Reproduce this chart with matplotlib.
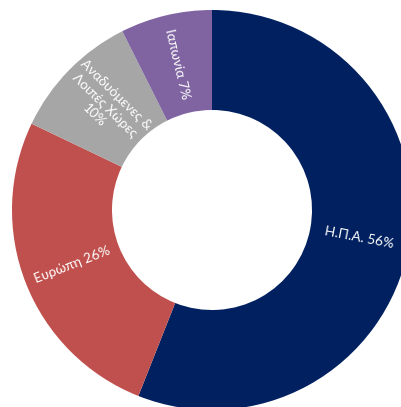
import matplotlib
matplotlib.use("Agg")
import matplotlib.pyplot as plt

regions = ["Η.Π.Α.", "Ευρώπη", "Αναδυόμενες &\nΛοιπές Χώρες\n", "Ιαπωνία"]
shares = [56.0, 26.1, 10.5, 7.4]
pct_labels = ["56%", "26%", "10%", "7%"]
colors = ["#002060", "#C0504D", "#A6A6A6", "#8064A2"]

labels = []
for r, p in zip(regions, pct_labels):
    labels.append(r + p if r.endswith("\n") else r + " " + p)

plt.rcParams['font.family'] = ['Lato', 'Noto Sans', 'DejaVu Sans']

fig = plt.figure(figsize=(4.02, 4.07), dpi=100)
ax = fig.add_axes([0, 0, 1, 1])
wedges, texts = ax.pie(shares, colors=colors, startangle=90, counterclock=False,
                       radius=1.0, labels=labels, labeldistance=0.75,
                       rotatelabels=True,
                       wedgeprops=dict(width=0.5, edgecolor='none', linewidth=0))
for t in texts:
    t.set_horizontalalignment('center')
    t.set_verticalalignment('center')
    t.set_rotation_mode('anchor')
    t.set_multialignment('center')
    t.set_color('white')
    t.set_fontsize(9.8)
    t.set_linespacing(1.3)

cx, cy, R = 212, 210, 200
ax.set_xlim((0 - cx) / R, (402 - cx) / R)
ax.set_ylim((cy - 407) / R, (cy - 0) / R)
ax.set_aspect('equal')
ax.axis('off')
fig.savefig("out.png", dpi=100)
